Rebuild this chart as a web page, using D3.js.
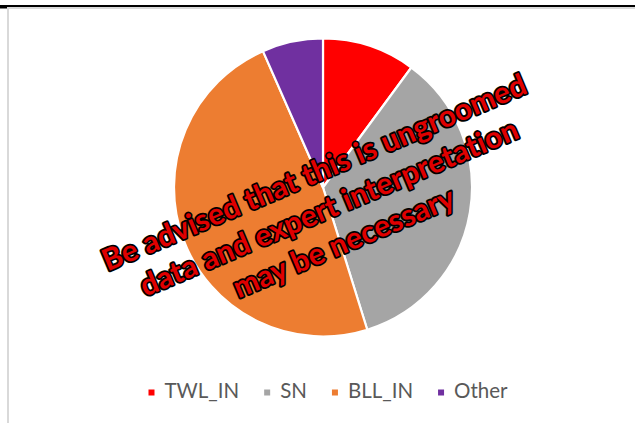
<!DOCTYPE html>
<html>
<head>
<meta charset="utf-8">
<script src="https://cdn.jsdelivr.net/npm/d3@7/dist/d3.min.js"></script>
<style>
  html, body { margin: 0; padding: 0; background: #ffffff; }
  svg { display: block; }
</style>
</head>
<body>
<svg id="chart" width="635" height="423"></svg>
<script>
// ---- data ----
const categories = ["TWL_IN", "SN", "BLL_IN", "Other"];
const values = [10.1, 35.1, 48.2, 6.6];
const colors = ["#FF0000", "#A5A5A5", "#ED7D31", "#7030A0"];
const watermarkLines = [
  "Be advised that this is ungroomed",
  "data and expert interpretation",
  "may be necessary"
];

const W = 635, H = 423;
const svg = d3.select("#chart");

// frame
svg.append("rect").attr("x", 0).attr("y", 0).attr("width", W).attr("height", H).attr("fill", "#fff");
svg.append("rect").attr("x", 8).attr("y", 8).attr("width", W + 10).attr("height", H + 10)
  .attr("fill", "#fff").attr("stroke", "#d9d9d9").attr("stroke-width", 2);
svg.append("line").attr("x1", 0).attr("x2", W).attr("y1", 6).attr("y2", 6)
  .attr("stroke", "#000").attr("stroke-width", 2);
svg.append("line").attr("x1", 0).attr("x2", 7).attr("y1", 7.5).attr("y2", 7.5)
  .attr("stroke", "#000").attr("stroke-width", 2);

// pie
const cx = 323, cy = 187.5, r = 149;
const data = categories.map((c, i) => ({ cat: c, value: values[i], color: colors[i] }));
const pie = d3.pie().sort(null).value(d => d.value);
const arc = d3.arc().innerRadius(0).outerRadius(r);
const g = svg.append("g").attr("transform", `translate(${cx},${cy})`);
g.selectAll("path").data(pie(data)).enter().append("path")
  .attr("d", arc)
  .attr("fill", d => d.data.color)
  .attr("stroke", "#fff")
  .attr("stroke-width", 2.2)
  .attr("stroke-linejoin", "round");

// legend
const legend = svg.append("g").attr("font-family", "Lato, 'Open Sans', sans-serif")
  .attr("font-size", 20.5).attr("fill", "#595959");
const sq = 6, gapText = 10, gapItem = 25, legendY = 398;
let items = [];
let x = 0;
data.forEach((d, i) => {
  const it = legend.append("g");
  it.append("rect").attr("width", sq).attr("height", sq).attr("y", -8.5).attr("fill", d.color);
  const t = it.append("text").attr("x", sq + gapText).attr("y", 0).text(d.cat);
  const w = t.node().getComputedTextLength();
  items.push({ g: it, x: x });
  x += sq + gapText + w + gapItem;
});
const total = x - gapItem;
const startX = 328 - total / 2;
items.forEach(it => it.g.attr("transform", `translate(${startX + it.x},${legendY})`));

// watermark
const wm = svg.append("g").attr("transform", `translate(333,217) rotate(-23)`);
const lineGap = 38;
watermarkLines.forEach((l, i) => {
  wm.append("text")
    .attr("x", 0)
    .attr("y", (i - 1) * lineGap)
    .attr("text-anchor", "middle")
    .attr("font-family", "Lato, 'Open Sans', sans-serif")
    .attr("font-weight", "bold")
    .attr("font-size", 30)
    .attr("letter-spacing", 0.2)
    .attr("fill", "#E00000")
    .attr("stroke", "#000")
    .attr("stroke-width", 3.5)
    .attr("stroke-linejoin", "round")
    .attr("paint-order", "stroke")
    .text(l);
});
</script>
</body>
</html>
